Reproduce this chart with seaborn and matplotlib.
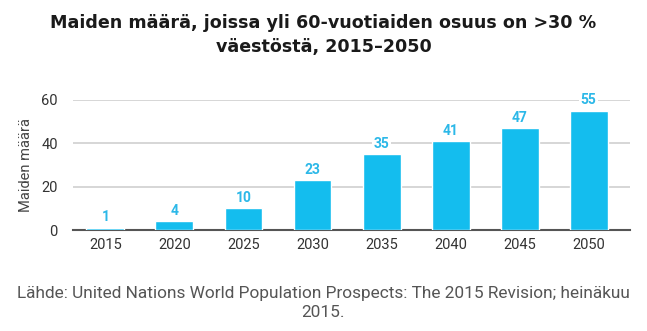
import matplotlib
matplotlib.use("Agg")
import matplotlib.pyplot as plt
import seaborn as sns
import pandas as pd

years = ["2015", "2020", "2025", "2030", "2035", "2040", "2045", "2050"]
values = [1, 4, 10, 23, 35, 41, 47, 55]
yticks = [0, 20, 40, 60]

title = "Maiden määrä, joissa yli 60-vuotiaiden osuus on >30 %\nväestöstä, 2015\u20132050"
ylabel = "Maiden määrä"
source = "Lähde: United Nations World Population Prospects: The 2015 Revision; heinäkuu\n2015."

sns.set_theme(style="white")
plt.rcParams['font.family'] = ['Roboto', 'DejaVu Sans']

df = pd.DataFrame({"year": years, "value": values})

fig = plt.figure(figsize=(6.47, 3.31), dpi=100)
ax = fig.add_axes([73/647, 1-230/331, (630-73)/647, 130/331])

sns.barplot(data=df, x="year", y="value", color="#14BDEE", saturation=1,
            width=0.55, ax=ax, zorder=3)

ax.set_ylim(0, 60)
ax.set_xlim(-0.47, 7.6)
ax.set_yticks(yticks)
ax.yaxis.grid(True, color="#cfcfcf", linewidth=1.2, zorder=0)
ax.set_axisbelow(True)
for s in ["top", "right", "left"]:
    ax.spines[s].set_visible(False)
ax.spines["bottom"].set_color("#555555")
ax.spines["bottom"].set_linewidth(1.5)
ax.tick_params(axis="both", length=0, labelsize=10.5, colors="#333333")
ax.tick_params(axis="x", pad=6)
ax.tick_params(axis="y", pad=11)
ax.set_xlabel("")
ax.set_ylabel(ylabel, fontsize=10.5, color="#444444", labelpad=6)

for i, v in enumerate(values):
    ax.text(i, v + 1.6, str(v), ha="center", va="bottom", fontsize=10,
            fontweight="bold", color="#2CB8E8", clip_on=False, zorder=4,
            bbox=dict(boxstyle="square,pad=0.1", fc="white", ec="none"))

fig.text(0.5, 1-35/331, title, ha="center", va="center", fontsize=12.6,
         fontweight="bold", color="#1a1a1a", linespacing=1.45,
         family=["DejaVu Sans"])
fig.text(0.5, 1-303/331, source, ha="center", va="center", fontsize=12.4,
         color="#555555", linespacing=1.4)

fig.savefig("out.png", dpi=100)
